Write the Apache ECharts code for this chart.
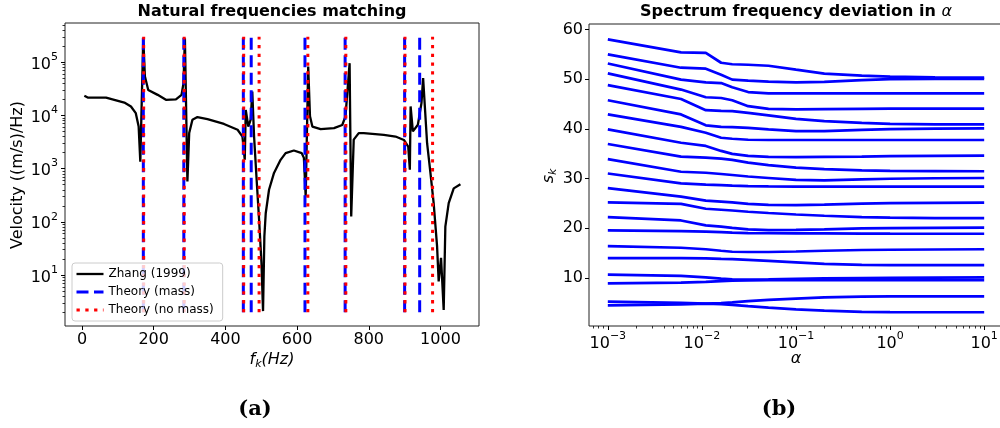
<!DOCTYPE html>
<html>
<head>
<meta charset="utf-8">
<script src="https://cdn.jsdelivr.net/npm/echarts@6/dist/echarts.min.js"></script>
<style>
  html, body { margin: 0; padding: 0; background: #fff; }
  #chart { width: 1000px; height: 428px; }
</style>
</head>
<body>
<div id="chart"></div>
<script>
// ---- Panel (a): measured velocity spectrum and predicted natural frequencies ----
const zhangFreq = [6.5, 15.8, 67, 90, 118, 136.5, 150, 158, 162.6, 170.8,
  175.5, 184.7, 211, 234, 262, 277.6, 283, 287, 294, 299,
  308, 322, 350, 396, 434, 447.6, 454, 456.8, 464, 470.5,
  475, 480, 486.6, 494, 500.6, 505, 508.7, 512.5, 521.7, 535.6,
  554, 568, 591, 613, 619, 624, 631, 636, 642.6, 665.7,
  703, 726, 735, 746.5, 751, 758, 772, 786, 842, 874.7,
  898, 910, 914.6, 916.7, 923, 937, 947, 951.6, 962.7, 972,
  981, 990.5, 995, 1001.6, 1009, 1013.6, 1023, 1037, 1055.7];
const zhangVel = [23300, 21600, 21600, 19600, 17400, 14700, 11000, 6150, 1350, 280000,
  53700, 30000, 24300, 19600, 20000, 24300, 40000, 280000, 575, 4650,
  8300, 9300, 8500, 6900, 5360, 4000, 1460, 12600, 6150, 8300,
  28000, 4000, 710, 110, 17, 2.1, 53, 145, 400, 830,
  1460, 1950, 2190, 1950, 1590, 300, 82500, 9600, 6150, 5500,
  5750, 6600, 9600, 95700, 126, 3500, 4650, 4650, 4300, 4000,
  3450, 2600, 950, 14700, 5000, 6650, 17000, 50000, 3000, 830,
  225, 35, 7.6, 21, 2.2, 81, 225, 425, 510];
const theoryMassFreq = [171, 284, 450, 472, 622, 734, 900, 942];
const theoryNoMassFreq = [172, 285, 451, 494, 630, 736, 901, 978];
const theoryLineSpan = [2, 300000];
const freqTicks = [0, 200, 400, 600, 800, 1000];
const velTicks = [10, 100, 1000, 10000, 100000];

// ---- Panel (b): spectrum s_k against alpha ----
const alphaValues = [0.001, 0.006, 0.011, 0.016, 0.021, 0.031, 0.051, 0.1, 0.2, 0.5, 1, 3, 10];
const sk1  = [58.0, 55.4, 55.3, 53.3, 53.0, 52.9, 52.7, 51.9, 51.1, 50.7, 50.5, 50.35, 50.3];
const sk2  = [55.0, 52.3, 52.1, 50.9, 49.9, 49.7, 49.5, 49.35, 49.45, 49.8, 50.0, 50.05, 50.05];
const sk3  = [53.15, 49.9, 49.35, 49.2, 48.35, 47.4, 47.15, 47.15, 47.15, 47.15, 47.15, 47.15, 47.15];
const sk4  = [51.15, 47.9, 46.35, 46.2, 45.75, 44.55, 44.0, 43.9, 43.95, 44.0, 44.05, 44.05, 44.05];
const sk5  = [48.8, 46.0, 43.75, 43.6, 43.55, 43.2, 42.7, 42.0, 41.55, 41.2, 41.0, 40.9, 40.9];
const sk6  = [45.75, 42.9, 40.7, 40.4, 40.35, 40.2, 39.9, 39.55, 39.55, 39.8, 39.95, 40.05, 40.1];
const sk7  = [42.9, 40.4, 39.2, 38.2, 38.0, 37.8, 37.75, 37.75, 37.75, 37.75, 37.75, 37.75, 37.75];
const sk8  = [39.9, 37.2, 36.55, 35.55, 34.95, 34.55, 34.35, 34.3, 34.35, 34.4, 34.5, 34.55, 34.6];
const sk9  = [36.95, 34.4, 34.2, 34.0, 33.75, 33.2, 32.7, 32.2, 31.9, 31.65, 31.55, 31.5, 31.45];
const sk10 = [33.9, 31.35, 31.15, 30.9, 30.7, 30.4, 30.1, 29.7, 29.6, 29.8, 29.95, 30.05, 30.1];
const sk11 = [31.0, 29.0, 28.75, 28.65, 28.55, 28.45, 28.4, 28.35, 28.35, 28.35, 28.35, 28.35, 28.35];
const sk12 = [28.05, 26.35, 25.55, 25.35, 25.2, 24.9, 24.7, 24.65, 24.75, 24.95, 25.05, 25.1, 25.15];
const sk13 = [25.2, 24.9, 23.9, 23.7, 23.55, 23.3, 23.05, 22.75, 22.5, 22.2, 22.1, 22.0, 22.0];
const sk14 = [22.2, 21.55, 20.55, 20.3, 20.05, 19.75, 19.6, 19.65, 19.75, 19.95, 20.0, 20.05, 20.1];
const sk15 = [19.55, 19.4, 19.3, 19.2, 19.1, 19.0, 18.97, 18.95, 18.93, 18.9, 18.88, 18.87, 18.87];
const sk16 = [16.4, 16.05, 15.75, 15.45, 15.25, 15.2, 15.2, 15.3, 15.45, 15.6, 15.65, 15.7, 15.75];
const sk17 = [13.95, 13.95, 13.9, 13.8, 13.75, 13.6, 13.4, 13.1, 12.8, 12.6, 12.55, 12.55, 12.55];
const sk18 = [10.65, 10.4, 10.1, 9.85, 9.7, 9.65, 9.7, 9.8, 9.88, 9.95, 10.0, 10.05, 10.07];
const sk19 = [8.9, 9.05, 9.2, 9.35, 9.45, 9.5, 9.55, 9.55, 9.55, 9.55, 9.55, 9.55, 9.55];
const sk20 = [5.2, 4.95, 4.8, 4.9, 5.05, 5.3, 5.55, 5.8, 6.05, 6.2, 6.25, 6.27, 6.27];
const sk21 = [4.45, 4.65, 4.8, 4.7, 4.55, 4.3, 4.0, 3.65, 3.4, 3.15, 3.08, 3.07, 3.07];
const skCurves = [sk1, sk2, sk3, sk4, sk5, sk6, sk7, sk8, sk9, sk10, sk11,
  sk12, sk13, sk14, sk15, sk16, sk17, sk18, sk19, sk20, sk21];
const alphaTicks = [0.001, 0.01, 0.1, 1, 10];
const skTicks = [10, 20, 30, 40, 50, 60];

// ---- axis extents (5% padding in log / linear space) ----
const velMin = Math.pow(10, 0.042), velMax = Math.pow(10, 5.736);
const alphaMin = Math.pow(10, -3.2), alphaMax = Math.pow(10, 1.2);

const FONT = 'DejaVu Sans';
const BLUE = '#0000ff', RED = '#ff0000';

const supRich = {
  b: { fontFamily: FONT, fontSize: 16, color: '#000', lineHeight: 21, verticalAlign: 'bottom' },
  s: { fontFamily: FONT, fontSize: 11, color: '#000', lineHeight: 11, verticalAlign: 'top' }
};
function powerLabel(v) {
  const e = Math.round(Math.log10(v));
  return '{b|10}{s|' + (e < 0 ? '\u2212' + (-e) : String(e)) + '}';
}
function plainLabel(v) {
  return String(v);
}
// minor ticks of a log axis: 2..9 x 10^n inside the visible range
function minorLogTicks(lo, hi) {
  const out = [];
  for (let e = Math.floor(Math.log10(lo)); e <= Math.ceil(Math.log10(hi)); e++) {
    for (let m = 2; m <= 9; m++) {
      const v = m * Math.pow(10, e);
      if (v >= lo && v <= hi) out.push(v);
    }
  }
  return out;
}

const tickStyle = { color: '#000', width: 1 };
const labelStyle = { fontFamily: FONT, fontSize: 16, color: '#000' };

const series = [];
series.push({
  type: 'line', name: 'Zhang (1999)', xAxisIndex: 0, yAxisIndex: 0,
  data: zhangFreq.map((f, i) => [f, zhangVel[i]]),
  symbol: 'none', showSymbol: false,
  lineStyle: { color: '#000', width: 2.3 }, itemStyle: { color: '#000' }
});
theoryMassFreq.forEach(f => series.push({
  type: 'line', name: 'Theory (mass)', xAxisIndex: 0, yAxisIndex: 0,
  data: [[f, theoryLineSpan[0]], [f, theoryLineSpan[1]]],
  symbol: 'none', showSymbol: false,
  lineStyle: { color: BLUE, width: 3, type: [12, 5.5] }, itemStyle: { color: BLUE }
}));
theoryNoMassFreq.forEach(f => series.push({
  type: 'line', name: 'Theory (no mass)', xAxisIndex: 0, yAxisIndex: 0,
  data: [[f, theoryLineSpan[0]], [f, theoryLineSpan[1]]],
  symbol: 'none', showSymbol: false,
  lineStyle: { color: RED, width: 3, type: [3.3, 5.5] }, itemStyle: { color: RED }
}));
skCurves.forEach((curve, k) => series.push({
  type: 'line', name: 's' + (k + 1), xAxisIndex: 1, yAxisIndex: 2,
  data: alphaValues.map((a, i) => [a, curve[i]]),
  symbol: 'none', showSymbol: false,
  lineStyle: { color: BLUE, width: 2.7 }, itemStyle: { color: BLUE }
}));

const option = {
  animation: false,
  backgroundColor: '#fff',
  grid: [
    { left: 65, top: 23, width: 414, height: 303, show: true, borderColor: '#222', borderWidth: 1,
      backgroundColor: 'transparent', containLabel: false, outerBoundsMode: 'none' },
    { left: 589, top: 24, width: 414, height: 302, show: true, borderColor: '#222', borderWidth: 1,
      backgroundColor: 'transparent', containLabel: false, outerBoundsMode: 'none' }
  ],
  xAxis: [
    { gridIndex: 0, type: 'value', min: -47.5, max: 1107.5,
      axisLine: { show: false, onZero: false }, splitLine: { show: false },
      axisTick: { show: true, customValues: freqTicks, length: 4, lineStyle: tickStyle },
      axisLabel: Object.assign({ customValues: freqTicks, formatter: plainLabel, margin: 6 }, labelStyle) },
    { gridIndex: 1, type: 'log', logBase: 10, min: alphaMin, max: alphaMax,
      axisLine: { show: false, onZero: false }, splitLine: { show: false },
      axisTick: { show: true, customValues: alphaTicks, length: 4, lineStyle: tickStyle },
      axisLabel: { customValues: alphaTicks, formatter: powerLabel, rich: supRich, margin: 5 } },
    { gridIndex: 1, type: 'log', logBase: 10, min: alphaMin, max: alphaMax, position: 'bottom',
      axisLine: { show: false, onZero: false }, splitLine: { show: false },
      axisTick: { show: true, customValues: minorLogTicks(alphaMin, alphaMax), length: 2.5, lineStyle: { color: '#000', width: 0.8 } },
      axisLabel: { show: false } }
  ],
  yAxis: [
    { gridIndex: 0, type: 'log', logBase: 10, min: velMin, max: velMax, position: 'left',
      axisLine: { show: false, onZero: false }, splitLine: { show: false },
      axisTick: { show: true, customValues: velTicks, length: 4, lineStyle: tickStyle },
      axisLabel: { customValues: velTicks, formatter: powerLabel, rich: supRich, margin: 7 } },
    { gridIndex: 0, type: 'log', logBase: 10, min: velMin, max: velMax, position: 'left',
      axisLine: { show: false, onZero: false }, splitLine: { show: false },
      axisTick: { show: true, customValues: minorLogTicks(velMin, velMax), length: 2.5, lineStyle: { color: '#000', width: 0.8 } },
      axisLabel: { show: false } },
    { gridIndex: 1, type: 'value', min: 0.3, max: 61.1, position: 'left',
      axisLine: { show: false, onZero: false }, splitLine: { show: false },
      axisTick: { show: true, customValues: skTicks, length: 4, lineStyle: tickStyle },
      axisLabel: Object.assign({ customValues: skTicks, formatter: plainLabel, margin: 6 }, labelStyle) }
  ],
  legend: {
    data: ['Zhang (1999)', 'Theory (mass)', 'Theory (no mass)'],
    orient: 'vertical', left: 72, top: 263,
    itemWidth: 27, itemHeight: 12, itemGap: 6,
    padding: [5, 9, 5, 3],
    backgroundColor: 'rgba(255,255,255,0.8)', borderColor: '#cccccc', borderWidth: 1, borderRadius: 3,
    lineStyle: { width: 'inherit' },
    itemStyle: { color: 'rgba(0,0,0,0)', borderWidth: 0, opacity: 0 },
    textStyle: { fontFamily: FONT, fontSize: 12, color: '#000' },
    selectedMode: false
  },
  graphic: [
    { type: 'text', x: 272, y: 12,
      style: { text: 'Natural frequencies matching', font: 'bold 16px "DejaVu Sans"', fill: '#000',
               align: 'center', verticalAlign: 'middle', textAlign: 'center', textVerticalAlign: 'middle' } },
    { type: 'text', x: 796, y: 12,
      style: { text: '{t|Spectrum frequency deviation in }{a|\u03b1}',
               rich: { t: { fontFamily: FONT, fontWeight: 'bold', fontSize: 16, fill: '#000', color: '#000' },
                       a: { fontFamily: FONT, fontStyle: 'italic', fontSize: 16, fill: '#000', color: '#000' } },
               align: 'center', verticalAlign: 'middle', textAlign: 'center', textVerticalAlign: 'middle' } },
    { type: 'text', x: 18, y: 175, rotation: Math.PI / 2,
      style: { text: 'Velocity ((m/s)/Hz)', font: '16px "DejaVu Sans"', fill: '#000',
               align: 'center', verticalAlign: 'middle', textAlign: 'center', textVerticalAlign: 'middle' } },
    { type: 'text', x: 272, y: 361,
      style: { text: '{i|f}{k|k}{i|(Hz)}',
               rich: { i: { fontFamily: FONT, fontStyle: 'italic', fontSize: 16, color: '#000', lineHeight: 18, verticalAlign: 'top' },
                       k: { fontFamily: FONT, fontStyle: 'italic', fontSize: 11, color: '#000', lineHeight: 11, verticalAlign: 'bottom' } },
               align: 'center', verticalAlign: 'middle', textAlign: 'center', textVerticalAlign: 'middle' } },
    { type: 'text', x: 796, y: 359,
      style: { text: '\u03b1', font: 'italic 16px "DejaVu Sans"', fill: '#000',
               align: 'center', verticalAlign: 'middle', textAlign: 'center', textVerticalAlign: 'middle' } },
    { type: 'text', x: 550, y: 176, rotation: Math.PI / 2,
      style: { text: '{i|s}{k|k}',
               rich: { i: { fontFamily: FONT, fontStyle: 'italic', fontSize: 16, color: '#000', lineHeight: 18, verticalAlign: 'top' },
                       k: { fontFamily: FONT, fontStyle: 'italic', fontSize: 11, color: '#000', lineHeight: 11, verticalAlign: 'bottom' } },
               align: 'center', verticalAlign: 'middle', textAlign: 'center', textVerticalAlign: 'middle' } },
    { type: 'text', x: 255, y: 410,
      style: { text: '(a)', font: 'bold 21px "DejaVu Serif"', fill: '#000',
               align: 'center', verticalAlign: 'middle', textAlign: 'center', textVerticalAlign: 'middle' } },
    { type: 'text', x: 779, y: 410,
      style: { text: '(b)', font: 'bold 21px "DejaVu Serif"', fill: '#000',
               align: 'center', verticalAlign: 'middle', textAlign: 'center', textVerticalAlign: 'middle' } }
  ],
  series: series
};

const chart = echarts.init(document.getElementById('chart'), null, { renderer: 'canvas' });
chart.setOption(option);
</script>
</body>
</html>
